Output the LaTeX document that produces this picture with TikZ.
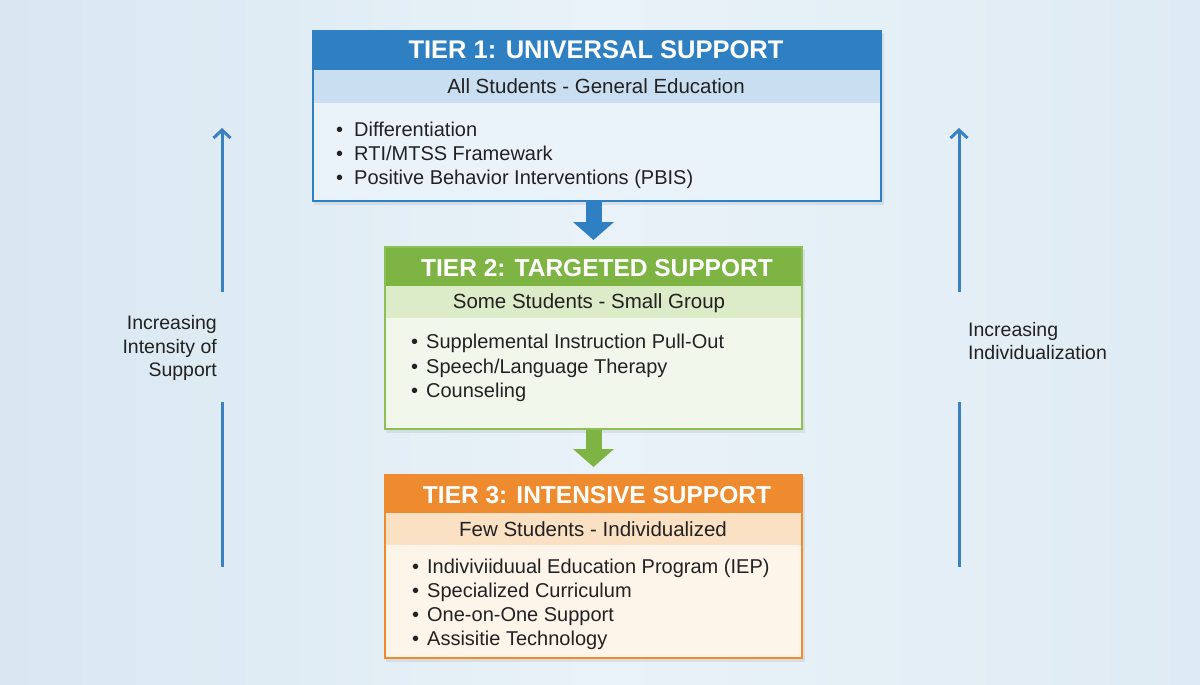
\documentclass[tikz,border=0pt]{standalone}
\usepackage{fontspec}
\setmainfont{Liberation Sans}
\usetikzlibrary{arrows.meta}
\definecolor{bgA}{HTML}{D8E7F1}
\definecolor{bgB}{HTML}{E9F2F8}
\definecolor{bgC}{HTML}{DFEBF4}
\definecolor{tonec}{HTML}{2F7FC3}
\definecolor{tonesub}{HTML}{C9DFF1}
\definecolor{tonebody}{HTML}{EBF3FA}
\definecolor{ttwoc}{HTML}{7DB443}
\definecolor{ttwoborder}{HTML}{8DBF54}
\definecolor{ttwosub}{HTML}{DCEBC8}
\definecolor{ttwobody}{HTML}{F2F7EC}
\definecolor{tthreec}{HTML}{EE8B2E}
\definecolor{tthreesub}{HTML}{FBE1C4}
\definecolor{tthreebody}{HTML}{FDF4EA}
\definecolor{sideblue}{HTML}{3A81C1}
\definecolor{ink}{HTML}{222222}
\tikzset{
  boxframe/.style={draw, line width=2, rectangle, inner sep=0, anchor=north west},
  tiertitle/.style={font=\fontsize{25.5}{28}\selectfont\bfseries, text=white, anchor=base, inner sep=0},
  tiertitlesmall/.style={tiertitle, font=\fontsize{24.5}{28}\selectfont\bfseries},
  tiersub/.style={font=\fontsize{20.5}{24}\selectfont, text=ink, anchor=base, inner sep=0},
  tieritem/.style={font=\fontsize{20}{24}\selectfont, text=ink, anchor=base west, inner sep=0},
  sidelabel/.style={font=\fontsize{19.5}{23.5}\selectfont, text=ink, inner sep=0},
  sideline/.style={draw=sideblue, line width=3},
  shadowfill/.style={fill=black, opacity=0.07}
}
\begin{document}
\begin{tikzpicture}[x=1pt,y=-1pt]
\useasboundingbox (0,0) rectangle (1200,685);
% background
\shade[left color=bgA, right color=bgC, middle color=bgB] (0,0) rectangle (1200,685);

% ---- Tier 1 ----
\fill[shadowfill] (314,33) rectangle (884,205);
\fill[tonebody] (312,30) rectangle (880,200);
\fill[tonesub] (312,70) rectangle (880,103);
\fill[tonec] (312,30) rectangle (880,70);
\node[boxframe, draw=tonec, minimum width=568, minimum height=170] (tier1) at (312,30) {};
\node[tiertitle] (t1title) at (596,59) {TIER 1: UNIVERSAL SUPPORT};
\node[tiersub] (t1sub) at (596,94) {All Students - General Education};
\node[tieritem] (t1a) at (336,136) {\makebox[18pt][l]{•}Differentiation};
\node[tieritem] (t1b) at (336,160) {\makebox[18pt][l]{•}RTI/MTSS Framewark};
\node[tieritem] (t1c) at (336,184) {\makebox[18pt][l]{•}Positive Behavior Interventions (PBIS)};

% ---- Tier 2 ----
\fill[shadowfill] (386,249) rectangle (805,433);
\fill[ttwobody] (384,246) rectangle (801,428);
\fill[ttwosub] (384,286) rectangle (801,318);
\fill[ttwoc] (384,246) rectangle (801,286);
\node[boxframe, draw=ttwoborder, minimum width=417, minimum height=182] (tier2) at (384,246) {};
\node[tiertitlesmall] (t2title) at (597,276) {TIER 2: TARGETED SUPPORT};
\node[tiersub] (t2sub) at (589,308) {Some Students - Small Group};
\node[tieritem] (t2a) at (411,348) {\makebox[15pt][l]{•}Supplemental Instruction Pull-Out};
\node[tieritem] (t2b) at (411,373) {\makebox[15pt][l]{•}Speech/Language Therapy};
\node[tieritem] (t2c) at (411,397) {\makebox[15pt][l]{•}Counseling};

% ---- Tier 3 ----
\fill[shadowfill] (386,477) rectangle (805,662);
\fill[tthreebody] (384,474) rectangle (801,657);
\fill[tthreesub] (384,513) rectangle (801,545);
\fill[tthreec] (384,474) rectangle (801,513);
\node[boxframe, draw=tthreec, minimum width=417, minimum height=183] (tier3) at (384,474) {};
\node[tiertitlesmall] (t3title) at (597,503) {TIER 3: INTENSIVE SUPPORT};
\node[tiersub] (t3sub) at (593,536) {Few Students - Individualized};
\node[tieritem] (t3a) at (412,573) {\makebox[15pt][l]{•}Indiviviiduual Education Program (IEP)};
\node[tieritem] (t3b) at (412,597) {\makebox[15pt][l]{•}Specialized Curriculum};
\node[tieritem] (t3c) at (412,621) {\makebox[15pt][l]{•}One-on-One Support};
\node[tieritem] (t3d) at (412,645) {\makebox[15pt][l]{•}Assisitie Technology};

% ---- block arrows ----
\draw[tonec, line width=16, -{Triangle[width=40pt,length=18pt]}, shorten >=6]
  (tier2.north |- tier1.south) -- (tier2.north);
\draw[ttwoc, line width=16, -{Triangle[width=40pt,length=18pt]}, shorten >=7]
  (tier3.north |- tier2.south) -- (tier3.north);

% ---- side arrows ----
\coordinate (lA) at (222,567);
\coordinate (lB) at (222,402);
\coordinate (lC) at (222,292);
\coordinate (lD) at (222,128);
\draw[sideline] (lA) -- (lB);
\draw[sideline, -{Straight Barb[length=8pt,width=17pt]}] (lC) -- (lD);
\node[sidelabel, anchor=east, align=right] (llab) at (217,348) {Increasing\\Intensity of\\Support};

\coordinate (rA) at (959,567);
\coordinate (rB) at (959,402);
\coordinate (rC) at (959,292);
\coordinate (rD) at (959,128);
\draw[sideline] (rA) -- (rB);
\draw[sideline, -{Straight Barb[length=8pt,width=17pt]}] (rC) -- (rD);
\node[sidelabel, anchor=west, align=left] (rlab) at (968,341) {Increasing\\Individualization};
\end{tikzpicture}
\end{document}
